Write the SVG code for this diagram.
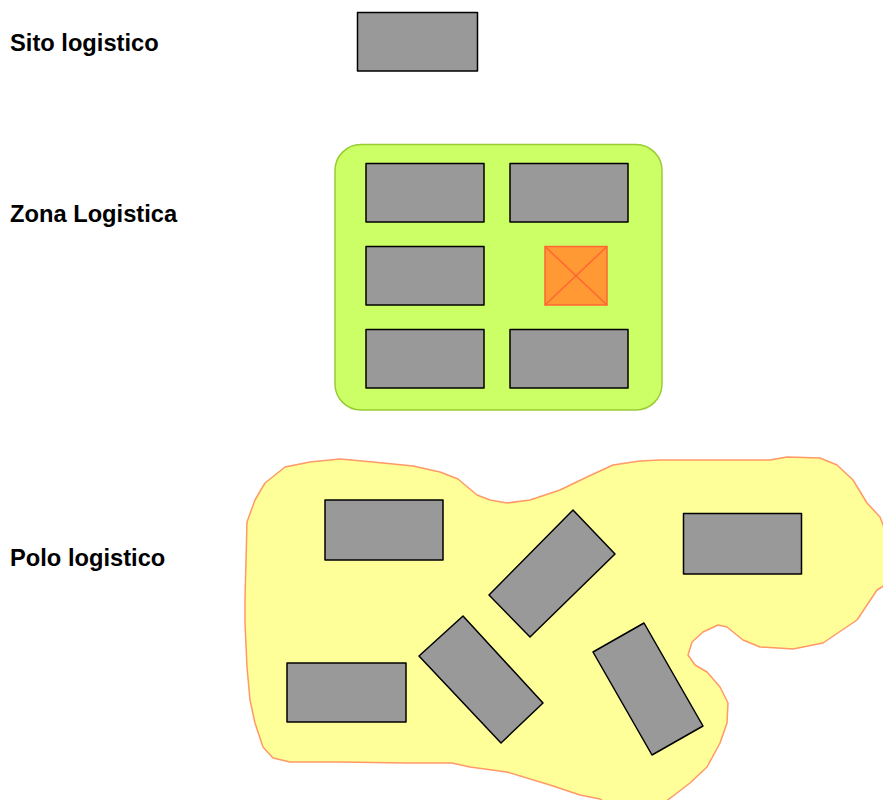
<svg xmlns="http://www.w3.org/2000/svg" width="883" height="800" viewBox="0 0 883 800">
<style>
.lbl{font-family:"Liberation Sans",Arial,sans-serif;font-weight:bold;font-size:23.7px;fill:#000}
.bld{fill:#999999;stroke:#000;stroke-width:1.5;stroke-linejoin:round}
</style>
<rect width="883" height="800" fill="#fff"/>
<g id="sito">
<text class="lbl" x="10" y="51">Sito logistico</text>
<rect class="bld" x="357.5" y="12.5" width="120" height="58.5"/>
</g>
<g id="zona">
<text class="lbl" x="10" y="222">Zona Logistica</text>
<rect x="335" y="144.5" width="327" height="265.5" rx="26" ry="26" fill="#CCFF66" stroke="#99CC33" stroke-width="1.5"/>
<rect class="bld" x="366" y="163.5" width="118" height="58.5"/>
<rect class="bld" x="510" y="163.5" width="118" height="58.5"/>
<rect class="bld" x="366" y="246.5" width="118" height="58.5"/>
<rect class="bld" x="366" y="329.5" width="118" height="58.5"/>
<rect class="bld" x="510" y="329.5" width="118" height="58.5"/>
<g id="zona-x">
<rect x="545" y="246.5" width="62" height="58.5" fill="#FF9933" stroke="#FF6633" stroke-width="1.5"/>
<path d="M545,246.5 L607,305 M607,246.5 L545,305" stroke="#FF6633" stroke-width="1.5" fill="none"/>
</g>
</g>
<g id="polo">
<text class="lbl" x="10" y="566">Polo logistico</text>
<path d="M247,522 L255,500 L265,483 L285,467 L310,462 L340,459 L373,462 L413,466 L440,472 L458,479 L465,485 L477,495 L490,500 L507,503 L530,500 L560,490 L587,477 L613,465 L640,461 L660,460 L770,460 L787,457 L820,458 L837,465 L853,480 L867,503 L880,517 L885,530 L885,585 L877,590 L857,620 L823,643 L793,649 L760,647 L743,640 L727,627 L718,625 L703,632 L692,642 L688,655 L695,665 L707,672 L720,687 L728,703 L727,723 L720,743 L707,767 L690,783 L677,793 L665,802 L655,806 L610,806 L600,799 L580,795 L550,785 L507,772 L470,767 L452,763 L407,763 L340,762 L290,762 L273,758 L263,747 L255,723 L250,700 L247,667 L245,623 L245,600 Z" fill="#FFFF99" stroke="#FF9966" stroke-width="1.5" stroke-linejoin="round"/>
<rect class="bld" x="325" y="500" width="118" height="60"/>
<rect class="bld" x="683.5" y="513.5" width="118" height="60.5"/>
<rect class="bld" x="287" y="663" width="119" height="59"/>
<polygon class="bld" points="573,510 615,554 530,637 489,595"/>
<polygon class="bld" points="463,616 543,703 501,743 419,656"/>
<polygon class="bld" points="644,623 703,726 652,755 593,652"/>
</g>
</svg>
